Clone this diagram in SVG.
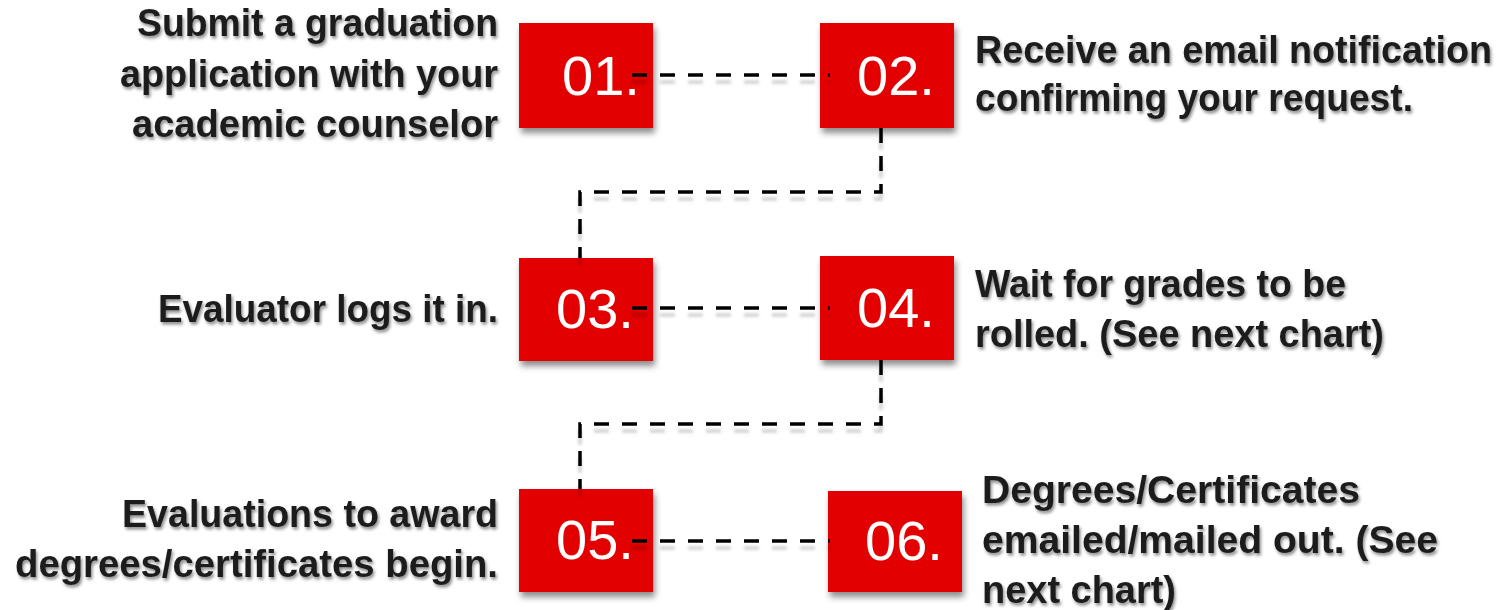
<svg xmlns="http://www.w3.org/2000/svg" width="1505" height="610" viewBox="0 0 1505 610">
<defs>
<filter id="boxShadow" x="-20%" y="-20%" width="150%" height="160%">
<feDropShadow dx="2" dy="5" stdDeviation="3" flood-color="#000" flood-opacity="0.45"/>
</filter>
<filter id="textShadow" x="-5%" y="-20%" width="110%" height="150%">
<feDropShadow dx="1.5" dy="2.5" stdDeviation="1.5" flood-color="#000" flood-opacity="0.45"/>
</filter>
<filter id="lineShadow" filterUnits="userSpaceOnUse" x="0" y="0" width="1505" height="610">
<feDropShadow dx="0" dy="7" stdDeviation="1.5" flood-color="#000" flood-opacity="0.18"/>
</filter>
<style>
.box{fill:#E30000;filter:url(#boxShadow);}
.num{font-family:"Liberation Sans",Arial,sans-serif;font-size:56px;fill:#ffffff;}
.lbl{font-family:"Liberation Sans",Arial,sans-serif;font-weight:bold;font-size:38px;fill:#1e1e1e;filter:url(#textShadow);}
.lbl-l{text-anchor:end;}
.conn{fill:none;stroke:#000;stroke-width:3.5;stroke-dasharray:15 13;}
</style>
</defs>
<rect width="1505" height="610" fill="#ffffff"/>

<g id="node-01">
<rect class="box" x="519" y="23" width="134" height="105"/>
<text class="num" x="562" y="95">01.</text>
<text class="lbl lbl-l" x="498" y="36" textLength="361" lengthAdjust="spacingAndGlyphs">Submit a graduation</text>
<text class="lbl lbl-l" x="498" y="87" textLength="378" lengthAdjust="spacingAndGlyphs">application with your</text>
<text class="lbl lbl-l" x="498" y="137" textLength="366" lengthAdjust="spacingAndGlyphs">academic counselor</text>
</g>

<g id="node-02">
<rect class="box" x="820" y="23" width="134" height="105"/>
<text class="num" x="857" y="95">02.</text>
<text class="lbl" x="975" y="63" textLength="517" lengthAdjust="spacingAndGlyphs">Receive an email notification</text>
<text class="lbl" x="975" y="111" textLength="438" lengthAdjust="spacingAndGlyphs">confirming your request.</text>
</g>

<g id="node-03">
<rect class="box" x="519" y="258" width="134" height="103"/>
<text class="num" x="556" y="328">03.</text>
<text class="lbl lbl-l" x="498" y="322" textLength="340" lengthAdjust="spacingAndGlyphs">Evaluator logs it in.</text>
</g>

<g id="node-04">
<rect class="box" x="820" y="256" width="134" height="104"/>
<text class="num" x="857" y="327">04.</text>
<text class="lbl" x="975" y="297" textLength="371" lengthAdjust="spacingAndGlyphs">Wait for grades to be</text>
<text class="lbl" x="975" y="347" textLength="409" lengthAdjust="spacingAndGlyphs">rolled. (See next chart)</text>
</g>

<g id="node-05">
<rect class="box" x="519" y="489" width="134" height="103"/>
<text class="num" x="556" y="559">05.</text>
<text class="lbl lbl-l" x="498" y="527" textLength="376" lengthAdjust="spacingAndGlyphs">Evaluations to award</text>
<text class="lbl lbl-l" x="498" y="577" textLength="483" lengthAdjust="spacingAndGlyphs">degrees/certificates begin.</text>
</g>

<g id="node-06">
<rect class="box" x="828" y="491" width="134" height="101"/>
<text class="num" x="865" y="560">06.</text>
<text class="lbl" x="982" y="503" textLength="378" lengthAdjust="spacingAndGlyphs">Degrees/Certificates</text>
<text class="lbl" x="982" y="553" textLength="456" lengthAdjust="spacingAndGlyphs">emailed/mailed out. (See</text>
<text class="lbl" x="982" y="603" textLength="194" lengthAdjust="spacingAndGlyphs">next chart)</text>
</g>

<g id="connectors" filter="url(#lineShadow)">
<path class="conn" d="M632,75 H830"/>
<path class="conn" d="M881,128 V192 H580 V258"/>
<path class="conn" d="M632,308 H830"/>
<path class="conn" d="M881,360 V424 H580 V489"/>
<path class="conn" d="M632,541 H830"/>
</g>
</svg>
